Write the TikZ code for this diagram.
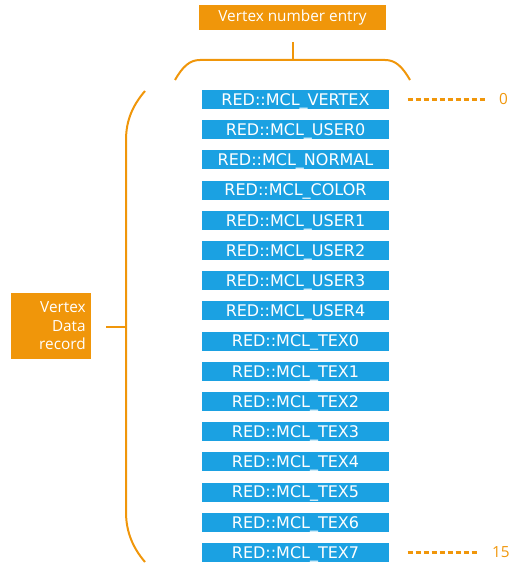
\documentclass[tikz,border=0pt]{standalone}
\usepackage{fontspec}
\setmainfont{Open Sans}
\newfontfamily\attrfont{DejaVu Sans}
\usetikzlibrary{positioning}

\definecolor{mclorange}{RGB}{240,150,10}
\definecolor{mclblue}{RGB}{27,161,226}

\begin{document}
\begin{tikzpicture}[
  x = 0.75pt, y = -0.75pt,
  node distance = 8.4pt,
  attr/.style = {rectangle, fill=mclblue, text=white, inner sep=0pt, outer sep=0pt,
                 minimum width=140.25pt, minimum height=14.25pt,
                 text height=8.75pt, text depth=0pt,
                 font=\attrfont\fontsize{12}{14}\selectfont},
  tag/.style  = {rectangle, fill=mclorange, text=white, inner sep=0pt, outer sep=0pt,
                 font=\fontsize{11.5}{13.9}\selectfont},
  idx/.style  = {inner sep=0pt, outer sep=0pt, text=mclorange, anchor=west,
                 font=\fontsize{11.5}{13}\selectfont},
  brace/.style = {draw=mclorange, line width=1.5pt},
  dashline/.style = {draw=mclorange, line width=2.25pt,
                     dash pattern=on 3.75pt off 2.25pt}
]
\useasboundingbox (0,0) rectangle (524,581);

% header
\node[tag, minimum width=140.25pt, minimum height=18.75pt] (entry) at (292.5,17.5)
  {Vertex number entry};

% vertex attributes
\node[attr] (vertex) at (295.5,99.5) {RED::MCL\_VERTEX};
\node[attr, below=of vertex] (user0)  {RED::MCL\_USER0};
\node[attr, below=of user0]  (normal) {RED::MCL\_NORMAL};
\node[attr, below=of normal] (color)  {RED::MCL\_COLOR};
\node[attr, below=of color]  (user1)  {RED::MCL\_USER1};
\node[attr, below=of user1]  (user2)  {RED::MCL\_USER2};
\node[attr, below=of user2]  (user3)  {RED::MCL\_USER3};
\node[attr, below=of user3]  (user4)  {RED::MCL\_USER4};
\node[attr, below=of user4]  (tex0)   {RED::MCL\_TEX0};
\node[attr, below=of tex0]   (tex1)   {RED::MCL\_TEX1};
\node[attr, below=of tex1]   (tex2)   {RED::MCL\_TEX2};
\node[attr, below=of tex2]   (tex3)   {RED::MCL\_TEX3};
\node[attr, below=of tex3]   (tex4)   {RED::MCL\_TEX4};
\node[attr, below=of tex4]   (tex5)   {RED::MCL\_TEX5};
\node[attr, below=of tex5]   (tex6)   {RED::MCL\_TEX6};
\node[attr, below=of tex6]   (tex7)   {RED::MCL\_TEX7};

% record label
\node[tag, minimum width=60pt, minimum height=49.5pt, inner xsep=4pt,
      text width=52pt, align=right] (record) at (51,326)
  {Vertex\\Data\\record};

% indices
\node[idx, right=82.5pt of vertex.east, anchor=west] (first) {0};
\node[idx, right=77.25pt of tex7.east, anchor=west] (last) {15};
\draw[dashline] ([xshift=14pt]vertex.east) -- ([xshift=-10pt]first.west);
\draw[dashline] ([xshift=14pt]tex7.east)   -- ([xshift=-10pt]last.west);

% top brace
\coordinate (stem) at (292.5,42);
\draw[brace] (175,80) .. controls (183,66) and (190,60) .. (200,60)
  -- (385,60) .. controls (395,60) and (402,66) .. (410,80);
\draw[brace] (stem) -- (292.5,60);

% left brace
\coordinate (tick) at (106,327);
\draw[brace] (145,91) .. controls (133,105) and (126,120) .. (126,140)
  -- (126,512) .. controls (126,532) and (133,548) .. (145,562);
\draw[brace] (tick) -- (126,327);
\end{tikzpicture}
\end{document}
